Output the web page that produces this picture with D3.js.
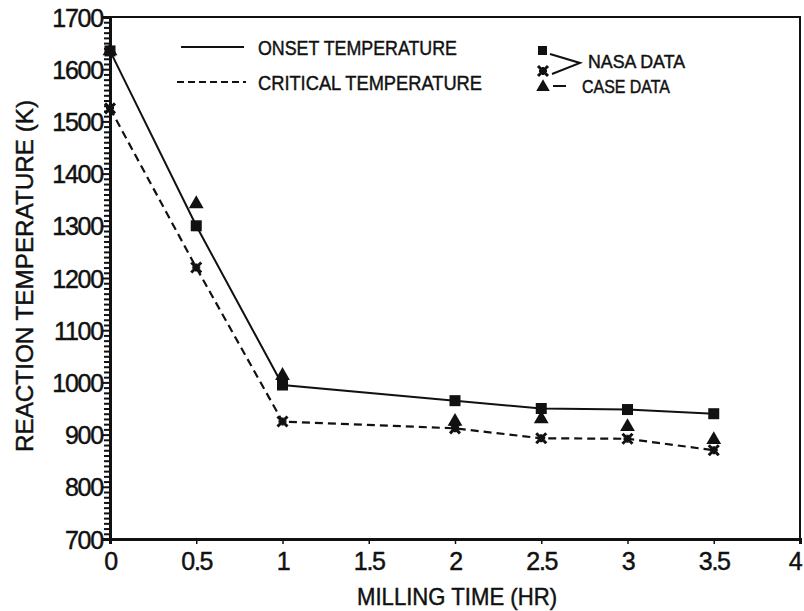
<!DOCTYPE html>
<html><head><meta charset="utf-8">
<script src="https://cdn.jsdelivr.net/npm/d3@7"></script>
<style>
body{margin:0;background:#fff;}
text{font-family:"Liberation Sans",Arial,sans-serif;fill:#111;stroke:#111;stroke-width:0.45px;}
</style></head>
<body><svg id="c" width="804" height="611"></svg>
<script>
const millingTime = [0, 0.5, 1, 2, 2.5, 3, 3.5];
const onsetNasa    = [1635, 1300, 995, 965, 950, 948, 940];
const criticalNasa = [1525, 1220, 925, 912, 893, 892, 870];
const caseData     = [1635, 1342, 1013, 925, 930, 915, 890];
const xTicks = [0, 0.5, 1, 1.5, 2, 2.5, 3, 3.5, 4];
const yTicks = [700, 800, 900, 1000, 1100, 1200, 1300, 1400, 1500, 1600, 1700];
const legendLines = ["ONSET TEMPERATURE", "CRITICAL TEMPERATURE"];
const legendMarks = ["NASA DATA", "CASE DATA"];

const svg = d3.select("#c");
const x = d3.scaleLinear().domain([0, 4]).range([110, 800]);
const y = d3.scaleLinear().domain([700, 1700]).range([539, 17]);
const ink = "#111";

// frame
svg.append("rect").attr("x", x(0)).attr("y", y(1700)).attr("width", x(4) - x(0)).attr("height", y(700) - y(1700))
  .attr("fill", "none").attr("stroke", ink).attr("stroke-width", 2);

// y axis
const yAxis = d3.axisLeft(y).tickValues(yTicks).tickSize(7).tickFormat(d3.format("d"));
const gy = svg.append("g").attr("transform", `translate(${x(0)},0)`).call(yAxis);
gy.select(".domain").attr("stroke", ink).attr("stroke-width", 3);
gy.selectAll(".tick line").attr("stroke", ink).attr("stroke-width", 2);
gy.selectAll(".tick text").attr("font-size", 25).attr("letter-spacing", -1.2).attr("x", -7).attr("dy", "0.36em").style("fill", ink);
const minor = d3.range(700, 1700, 10).filter(v => v % 100 !== 0);
const yMinor = d3.axisLeft(y).tickValues(minor).tickSize(6).tickFormat("");
const gym = svg.append("g").attr("transform", `translate(${x(0)},0)`).call(yMinor);
gym.select(".domain").remove();
gym.selectAll(".tick line").attr("stroke", ink).attr("stroke-width", 2);

// x axis
const xAxis = d3.axisBottom(x).tickValues(xTicks).tickSize(5).tickFormat(d => d3.format("")(d));
const gx = svg.append("g").attr("transform", `translate(0,${y(700)})`).call(xAxis);
gx.select(".domain").attr("stroke", ink).attr("stroke-width", 3);
gx.selectAll(".tick line").attr("stroke", ink).attr("stroke-width", 1.5);
gx.selectAll(".tick text").attr("font-size", 25).attr("letter-spacing", -1.2).attr("y", 13).attr("dy", "0.71em").style("fill", ink)
  .filter(d => d === 4).attr("text-anchor", "end").attr("dx", 1);

// titles
svg.append("text").attr("x", 457).attr("y", 605).attr("text-anchor", "middle").attr("font-size", 24)
  .attr("textLength", 200).attr("lengthAdjust", "spacingAndGlyphs").text("MILLING TIME (HR)");
svg.append("text").attr("transform", "translate(33,276) rotate(-90)").attr("text-anchor", "middle").attr("font-size", 24)
  .attr("textLength", 352).attr("lengthAdjust", "spacingAndGlyphs").text("REACTION TEMPERATURE (K)");

// lines
const pts = vals => millingTime.map((t, i) => [x(t), y(vals[i])]);
const line = d3.line();
svg.append("path").attr("d", line(pts(onsetNasa))).attr("fill", "none").attr("stroke", ink).attr("stroke-width", 2);
svg.append("path").attr("d", line(pts(criticalNasa))).attr("fill", "none").attr("stroke", ink).attr("stroke-width", 2.2)
  .attr("stroke-dasharray", "8,5");

// markers
const tri = d3.symbol().type(d3.symbolTriangle).size(95);
svg.append("g").selectAll("path").data(pts(caseData)).join("path")
  .attr("transform", d => `translate(${d[0]},${d[1]})`).attr("d", tri).attr("fill", ink);
svg.append("g").selectAll("rect").data(pts(onsetNasa)).join("rect")
  .attr("x", d => d[0] - 5.5).attr("y", d => d[1] - 5.5).attr("width", 11).attr("height", 11).attr("fill", ink);
const star = (g, cx, cy) => {
  g.append("path").attr("d", `M${cx-5},${cy-5}L${cx+5},${cy+5}M${cx-5},${cy+5}L${cx+5},${cy-5}`).attr("stroke", ink).attr("stroke-width", 3);
  g.append("path").attr("d", `M${cx-4},${cy}L${cx+4},${cy}M${cx},${cy-4}L${cx},${cy+4}`).attr("stroke", ink).attr("stroke-width", 2.5);
};
const gs = svg.append("g");
pts(criticalNasa).forEach(d => star(gs, d[0], d[1]));

// legend
const lg = svg.append("g");
lg.append("line").attr("x1", 181).attr("x2", 244).attr("y1", 47).attr("y2", 47).attr("stroke", ink).attr("stroke-width", 2);
lg.append("line").attr("x1", 177).attr("x2", 246).attr("y1", 82).attr("y2", 82).attr("stroke", ink).attr("stroke-width", 2.2).attr("stroke-dasharray", "7,4");
lg.append("text").attr("x", 258).attr("y", 47).attr("dy", "0.36em").attr("font-size", 21)
  .attr("textLength", 199).attr("lengthAdjust", "spacingAndGlyphs").text(legendLines[0]);
lg.append("text").attr("x", 258).attr("y", 82).attr("dy", "0.36em").attr("font-size", 21)
  .attr("textLength", 224).attr("lengthAdjust", "spacingAndGlyphs").text(legendLines[1]);
lg.append("rect").attr("x", 538).attr("y", 46).attr("width", 9).attr("height", 9).attr("fill", ink);
star(lg, 543, 71);
lg.append("path").attr("transform", "translate(543,87)").attr("d", d3.symbol().type(d3.symbolTriangle).size(80)).attr("fill", ink);
lg.append("path").attr("d", "M550,54L580,63L552,74").attr("fill", "none").attr("stroke", ink).attr("stroke-width", 2);
lg.append("line").attr("x1", 553).attr("x2", 566).attr("y1", 86).attr("y2", 86).attr("stroke", ink).attr("stroke-width", 2);
lg.append("text").attr("x", 588).attr("y", 62).attr("dy", "0.36em").attr("font-size", 18)
  .attr("textLength", 97).attr("lengthAdjust", "spacingAndGlyphs").text(legendMarks[0]);
lg.append("text").attr("x", 582).attr("y", 87).attr("dy", "0.36em").attr("font-size", 18)
  .attr("textLength", 88).attr("lengthAdjust", "spacingAndGlyphs").text(legendMarks[1]);
</script></body></html>
